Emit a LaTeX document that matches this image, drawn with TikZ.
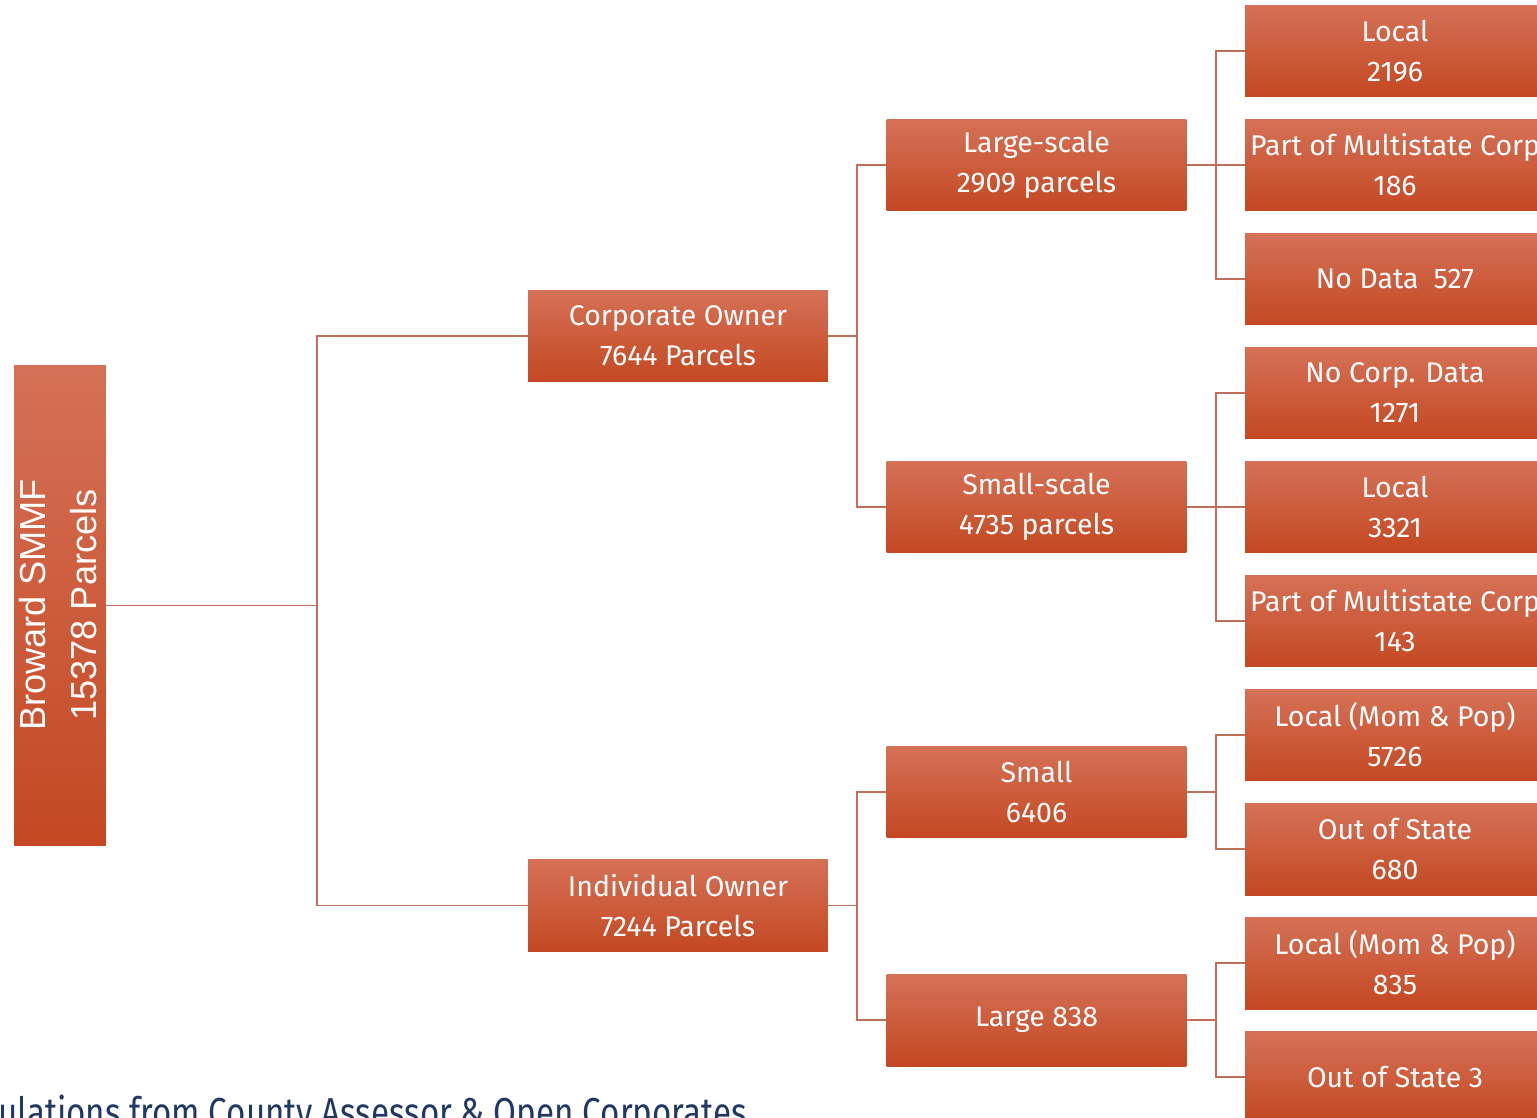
\documentclass[tikz,border=0pt]{standalone}
\usepackage{fontspec}
\setmainfont{Fira Sans}
\newfontfamily\rootfont{Liberation Sans}
\newfontfamily\notefont[FakeStretch=0.82]{Fira Sans}
\definecolor{boxtop}{RGB}{213,113,87}
\definecolor{boxmid}{RGB}{212,86,48}
\definecolor{boxbot}{RGB}{196,72,34}
\definecolor{connc}{RGB}{192,112,90}
\definecolor{notec}{RGB}{31,56,100}
\tikzset{
  box/.style={rectangle, inner sep=0pt, minimum width=6cm, minimum height=1.84cm,
    top color=boxtop, middle color=boxmid, bottom color=boxbot, text=white,
    align=center, font=\fontsize{16.2}{22.7}\selectfont},
  rootbox/.style={rectangle, inner sep=0pt, minimum width=1.84cm, minimum height=9.62cm,
    top color=boxtop, middle color=boxmid, bottom color=boxbot},
  conn/.style={draw=connc, line width=1.1pt}
}
\begin{document}
\begin{tikzpicture}[x=0.02cm, y=-0.02cm]
\useasboundingbox (0,0) rectangle (1537,1118);
\clip (0,0) rectangle (1537,1118);
% root
\node[rootbox] (root) at (60,605.5) {};
\node[rotate=90, text=white, align=center, font=\rootfont\fontsize{20.6}{29}\selectfont] (roottxt) at (58,605) {Broward SMMF\\15378 Parcels};
% level 1
\node[box] (corp) at (678,336) {Corporate Owner\\7644 Parcels};
\node[box] (ind) at (678,905.5) {Individual Owner\\7244 Parcels};
% level 2
\node[box] (lscale) at (1036.5,165) {Large-scale\\2909 parcels};
\node[box] (sscale) at (1036.5,507) {Small-scale\\4735 parcels};
\node[box] (small) at (1036.5,792) {Small\\6406};
\node[box] (large) at (1036.5,1020) {Large 838};
% level 3
\node[box] (a1) at (1395,51) {Local\\2196};
\node[box] (a2) at (1395,165) {Part of Multistate Corp\\186};
\node[box] (a3) at (1395,279) {No Data\ \ 527};
\node[box] (b1) at (1395,393) {No Corp. Data\\1271};
\node[box] (b2) at (1395,507) {Local\\3321};
\node[box] (b3) at (1395,621) {Part of Multistate Corp\\143};
\node[box] (c1) at (1395,735) {Local (Mom \& Pop)\\5726};
\node[box] (c2) at (1395,849) {Out of State\\680};
\node[box] (d1) at (1395,963) {Local (Mom \& Pop)\\835};
\node[box] (d2) at (1395,1077) {Out of State 3};
% junctions
\coordinate (j0) at (317,605.5);
\coordinate (j1) at (857,336);
\coordinate (j2) at (857,905.5);
\coordinate (k1) at (1216,165);
\coordinate (k2) at (1216,507);
\coordinate (k3) at (1216,792);
\coordinate (k4) at (1216,1020);
% connectors
\draw[conn] (root.east) -- (j0);
\draw[conn] (corp.west) -| (j0) |- (ind.west);
\draw[conn] (corp.east) -- (j1);
\draw[conn] (lscale.west) -| (j1) |- (sscale.west);
\draw[conn] (ind.east) -- (j2);
\draw[conn] (small.west) -| (j2) |- (large.west);
\draw[conn] (lscale.east) -- (a2.west);
\draw[conn] (a1.west) -| (k1) |- (a3.west);
\draw[conn] (sscale.east) -- (b2.west);
\draw[conn] (b1.west) -| (k2) |- (b3.west);
\draw[conn] (small.east) -- (k3);
\draw[conn] (c1.west) -| (k3) |- (c2.west);
\draw[conn] (large.east) -- (k4);
\draw[conn] (d1.west) -| (k4) |- (d2.west);
% note
\node[anchor=base west, inner sep=0pt, text=notec, font=\notefont\fontsize{23}{26}\selectfont] (note) at (-2,1126) {ulations from County Assessor \& Open Corporates};
\end{tikzpicture}
\end{document}
